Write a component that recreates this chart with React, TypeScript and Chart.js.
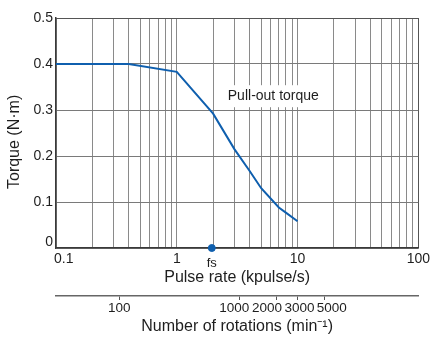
import React, { useEffect, useRef } from "react";
import { Chart, registerables } from "chart.js";

Chart.register(...registerables);

// ---- data ----
const pulseRate = [0.1, 0.4, 1, 2, 3, 4, 5, 7, 8, 10]; // kpulse/s
const torque = [0.4, 0.4, 0.383, 0.292, 0.215, 0.168, 0.13, 0.088, 0.077, 0.058]; // N·m
const fsRate = 1.95;
const xMin = 0.1;
const xMax = 100;
const xLabelValues = [0.1, 1, 10, 100];
const xGridValues = [
  0.1, 0.2, 0.3, 0.4, 0.5, 0.6, 0.7, 0.8, 0.9,
  1, 2, 3, 4, 5, 6, 7, 8, 9,
  10, 20, 30, 40, 50, 60, 70, 80, 90, 100,
];
const yTicks = [0, 0.1, 0.2, 0.3, 0.4, 0.5];
const rotationTicks = [100, 1000, 2000, 3000, 5000];
// label text as printed under the rotation scale (spacing as in the original)
const rotationLabels = ["100", "1000   ", "2000     ", " 3000", "    5000"];
const rpmPerKpulse = 300;
const curveLabel = "Pull-out torque";
const curveLabelAt = { x: 6.3, y: 0.33 };

const FONT = "'Liberation Sans', Arial, sans-serif";
const BLUE = "#0f5fae";
const TEXT = "#1e1e1e";

const near = (a: number, b: number) => Math.abs(a - b) < 1e-9 * Math.max(1, Math.abs(b));

const labelPlugin = {
  id: "curveLabel",
  beforeDatasetsDraw(chart: any) {
    const { ctx, scales } = chart;
    const px = scales.x.getPixelForValue(curveLabelAt.x);
    const py = scales.y.getPixelForValue(curveLabelAt.y);
    ctx.save();
    ctx.font = `14px ${FONT}`;
    const w = ctx.measureText(curveLabel).width;
    ctx.fillStyle = "#ffffff";
    ctx.fillRect(px - w / 2 - 3, py - 11, w + 6, 22);
    ctx.fillStyle = TEXT;
    ctx.textAlign = "center";
    ctx.textBaseline = "middle";
    ctx.fillText(curveLabel, px, py);
    ctx.restore();
  },
};

export default function App() {
  const ref = useRef<HTMLCanvasElement | null>(null);

  useEffect(() => {
    if (!ref.current) return;
    const chart = new Chart(ref.current, {
      type: "line",
      data: {
        datasets: [
          {
            data: pulseRate.map((x, i) => ({ x, y: torque[i] })),
            borderColor: BLUE,
            borderWidth: 2,
            pointRadius: 0,
            fill: false,
            tension: 0,
            xAxisID: "x",
            yAxisID: "y",
          },
          {
            data: [{ x: fsRate, y: 0 }],
            showLine: false,
            pointRadius: 3.5,
            pointBackgroundColor: BLUE,
            pointBorderColor: BLUE,
            clip: false as any,
            xAxisID: "x",
            yAxisID: "y",
          },
        ],
      },
      options: {
        animation: false,
        responsive: false,
        layout: { padding: { top: 18, right: 12, bottom: 0, left: 0 } },
        plugins: { legend: { display: false }, tooltip: { enabled: false } },
        scales: {
          x: {
            type: "logarithmic",
            position: "bottom",
            weight: 0,
            min: xMin,
            max: xMax,
            afterBuildTicks: (s: any) => {
              s.ticks = [...xGridValues, fsRate].sort((a, b) => a - b).map((v) => ({ value: v }));
            },
            afterFit: (s: any) => {
              s.height = 48;
            },
            grid: {
              drawTicks: false,
              lineWidth: 1,
              color: (c: any) => {
                if (!c.tick) return "#8a8a8a";
                if (near(c.tick.value, fsRate)) return "rgba(0,0,0,0)";
                if (near(c.tick.value, xMax)) return "#555";
                return "#8a8a8a";
              },
            },
            border: { color: "#3a3a3a", width: 1.5 },
            ticks: {
              autoSkip: false,
              maxRotation: 0,
              padding: 3,
              color: TEXT,
              font: (c: any) =>
                c.tick && near(c.tick.value, fsRate)
                  ? { family: FONT, size: 13, lineHeight: 1.9 }
                  : { family: FONT, size: 14 },
              callback: (v: any) => {
                const n = Number(v);
                if (near(n, fsRate)) return "fs";
                const hit = xLabelValues.find((t) => near(n, t));
                if (hit === undefined) return "";
                return hit === xMin ? "    0.1" : String(hit);
              },
            },
            title: {
              display: true,
              text: "Pulse rate (kpulse/s)",
              color: TEXT,
              font: { family: FONT, size: 16 },
              padding: { top: 0, bottom: 9 },
            },
          },
          x2: {
            type: "logarithmic",
            position: "bottom",
            weight: 1,
            min: xMin * rpmPerKpulse,
            max: xMax * rpmPerKpulse,
            afterBuildTicks: (s: any) => {
              s.ticks = rotationTicks.map((v) => ({ value: v }));
            },
            afterFit: (s: any) => {
              s.height = 42;
            },
            grid: { drawOnChartArea: false, drawTicks: true, tickLength: 4, color: "#555", lineWidth: 1 },
            border: { color: "#666", width: 1.5 },
            ticks: {
              autoSkip: false,
              maxRotation: 0,
              padding: 0.5,
              color: TEXT,
              font: { family: FONT, size: 13.5 },
              callback: (v: any) => {
                const i = rotationTicks.findIndex((t) => near(Number(v), t));
                return i >= 0 ? rotationLabels[i] : "";
              },
            },
            title: {
              display: true,
              text: "Number of rotations (min⁻¹)",
              color: TEXT,
              font: { family: FONT, size: 16 },
              padding: { top: 0, bottom: 2 },
            },
          },
          y: {
            type: "linear",
            min: 0,
            max: 0.5,
            afterBuildTicks: (s: any) => {
              s.ticks = yTicks.map((v) => ({ value: v }));
            },
            afterFit: (s: any) => {
              s.width = 56;
            },
            grid: {
              drawTicks: false,
              lineWidth: 1,
              color: (c: any) => (c.tick && near(c.tick.value, 0.5) ? "#555" : "#7a7a7a"),
            },
            border: { color: "#3a3a3a", width: 1.5 },
            ticks: {
              padding: 3,
              color: TEXT,
              font: (c: any) =>
                c.tick && c.tick.value === 0
                  ? { family: FONT, size: 14, lineHeight: 0.83 }
                  : { family: FONT, size: 14 },
              callback: (v: any) => (Number(v) === 0 ? ["0", ""] : String(v)),
            },
            title: {
              display: true,
              text: "Torque (N·m)    ",
              color: TEXT,
              font: { family: FONT, size: 16 },
              padding: { top: 5, bottom: 0 },
            },
          },
        },
      } as any,
      plugins: [labelPlugin],
    });
    return () => chart.destroy();
  }, []);

  return (
    <div style={{ position: "fixed", left: 0, top: 0, width: 433, height: 338, background: "#fff" }}>
      <canvas ref={ref} width={433} height={338} style={{ display: "block" }} />
    </div>
  );
}
